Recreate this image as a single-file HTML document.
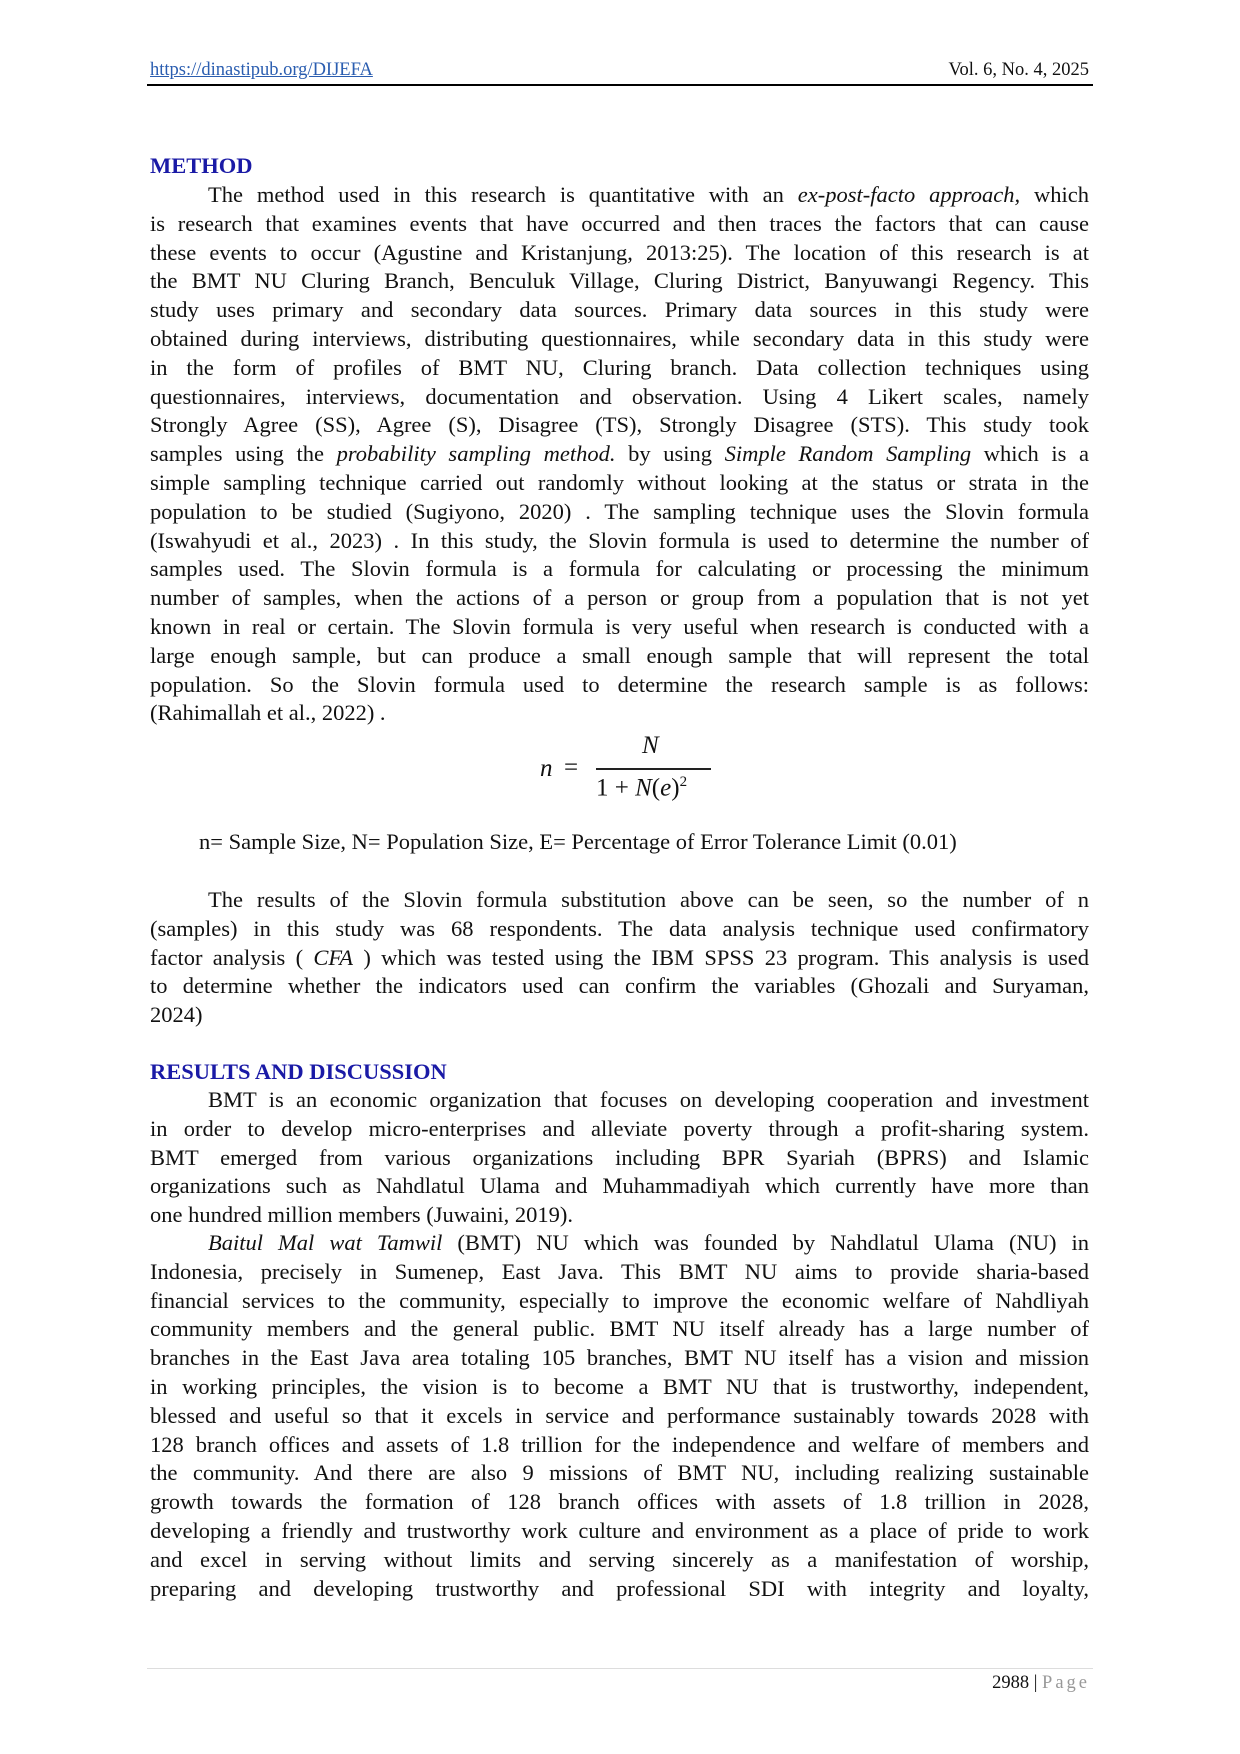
<!DOCTYPE html>
<html><head><meta charset="utf-8">
<style>
html,body{margin:0;padding:0;background:#fff}
body{width:1240px;height:1754px;position:relative;font-family:"Liberation Serif",serif;color:#111;overflow:hidden}
.a{position:absolute}
.blk{position:absolute;left:150px;width:939px;font-size:22.5px;line-height:28.8px}
.l{text-align:justify;text-align-last:justify;height:28.8px;overflow:hidden}
.e{text-align:left;text-align-last:left}
.in{text-indent:58px}
h2{position:absolute;left:150px;margin:0;font-size:22.5px;font-weight:bold;color:#1a1aa6;line-height:28.8px}
</style></head><body>
<div class="a" style="left:150px;top:60px;font-size:18.5px;color:#2a5db0;text-decoration:underline">https://dinastipub.org/DIJEFA</div>
<div class="a" style="right:151px;top:60px;font-size:18.5px">Vol. 6, No. 4, 2025</div>
<div class="a" style="left:147px;top:84px;width:946px;height:2px;background:#000"></div>

<h2 style="top:152px">METHOD</h2>
<div class="blk" style="top:181px">
<div class="l in">The method used in this research is quantitative with an <i>ex-post-facto approach,</i> which</div>
<div class="l">is research that examines events that have occurred and then traces the factors that can cause</div>
<div class="l">these events to occur (Agustine and Kristanjung, 2013:25). The location of this research is at</div>
<div class="l">the BMT NU Cluring Branch, Benculuk Village, Cluring District, Banyuwangi Regency. This</div>
<div class="l">study uses primary and secondary data sources. Primary data sources in this study were</div>
<div class="l">obtained during interviews, distributing questionnaires, while secondary data in this study were</div>
<div class="l">in the form of profiles of BMT NU, Cluring branch. Data collection techniques using</div>
<div class="l">questionnaires, interviews, documentation and observation. Using 4 Likert scales, namely</div>
<div class="l">Strongly Agree (SS), Agree (S), Disagree (TS), Strongly Disagree (STS). This study took</div>
<div class="l">samples using the <i>probability sampling method.</i> by using <i>Simple Random Sampling</i> which is a</div>
<div class="l">simple sampling technique carried out randomly without looking at the status or strata in the</div>
<div class="l">population to be studied (Sugiyono, 2020) . The sampling technique uses the Slovin formula</div>
<div class="l">(Iswahyudi et al., 2023) . In this study, the Slovin formula is used to determine the number of</div>
<div class="l">samples used. The Slovin formula is a formula for calculating or processing the minimum</div>
<div class="l">number of samples, when the actions of a person or group from a population that is not yet</div>
<div class="l">known in real or certain. The Slovin formula is very useful when research is conducted with a</div>
<div class="l">large enough sample, but can produce a small enough sample that will represent the total</div>
<div class="l">population. So the Slovin formula used to determine the research sample is as follows:</div>
<div class="l e">(Rahimallah et al., 2022) .</div>
</div>

<div class="a" style="left:540px;top:755px;font-size:25px;font-style:italic">n</div>
<div class="a" style="left:564px;top:754px;font-size:25px">=</div>
<div class="a" style="left:642px;top:732px;font-size:25px;font-style:italic">N</div>
<div class="a" style="left:596px;top:768px;width:115px;height:1.5px;background:#222"></div>
<div class="a" style="left:596px;top:774px;font-size:25px;white-space:nowrap">1 + <i>N</i>(<i>e</i>)<sup style="font-size:15px">2</sup></div>

<div class="a" style="left:199px;top:828px;font-size:22.5px;line-height:28.8px;white-space:nowrap">n= Sample Size, N= Population Size, E= Percentage of Error Tolerance Limit (0.01)</div>

<div class="blk" style="top:886px">
<div class="l in">The results of the Slovin formula substitution above can be seen, so the number of n</div>
<div class="l">(samples) in this study was 68 respondents. The data analysis technique used confirmatory</div>
<div class="l">factor analysis ( <i>CFA</i> ) which was tested using the IBM SPSS 23 program. This analysis is used</div>
<div class="l">to determine whether the indicators used can confirm the variables (Ghozali and Suryaman,</div>
<div class="l e">2024)</div>
</div>

<h2 style="top:1058px">RESULTS AND DISCUSSION</h2>
<div class="blk" style="top:1086px">
<div class="l in">BMT is an economic organization that focuses on developing cooperation and investment</div>
<div class="l">in order to develop micro-enterprises and alleviate poverty through a profit-sharing system.</div>
<div class="l">BMT emerged from various organizations including BPR Syariah (BPRS) and Islamic</div>
<div class="l">organizations such as Nahdlatul Ulama and Muhammadiyah which currently have more than</div>
<div class="l e">one hundred million members (Juwaini, 2019).</div>
</div>
<div class="blk" style="top:1229px">
<div class="l in"><i>Baitul Mal wat Tamwil</i> (BMT) NU which was founded by Nahdlatul Ulama (NU) in</div>
<div class="l">Indonesia, precisely in Sumenep, East Java. This BMT NU aims to provide sharia-based</div>
<div class="l">financial services to the community, especially to improve the economic welfare of Nahdliyah</div>
<div class="l">community members and the general public. BMT NU itself already has a large number of</div>
<div class="l">branches in the East Java area totaling 105 branches, BMT NU itself has a vision and mission</div>
<div class="l">in working principles, the vision is to become a BMT NU that is trustworthy, independent,</div>
<div class="l">blessed and useful so that it excels in service and performance sustainably towards 2028 with</div>
<div class="l">128 branch offices and assets of 1.8 trillion for the independence and welfare of members and</div>
<div class="l">the community. And there are also 9 missions of BMT NU, including realizing sustainable</div>
<div class="l">growth towards the formation of 128 branch offices with assets of 1.8 trillion in 2028,</div>
<div class="l">developing a friendly and trustworthy work culture and environment as a place of pride to work</div>
<div class="l">and excel in serving without limits and serving sincerely as a manifestation of worship,</div>
<div class="l">preparing and developing trustworthy and professional SDI with integrity and loyalty,</div>
</div>

<div class="a" style="left:147px;top:1668px;width:946px;height:1px;background:#ddd"></div>
<div class="a" style="right:150px;top:1673px;font-size:18.5px">2988 | <span style="color:#999;letter-spacing:3px">Page</span></div>
</body></html>
